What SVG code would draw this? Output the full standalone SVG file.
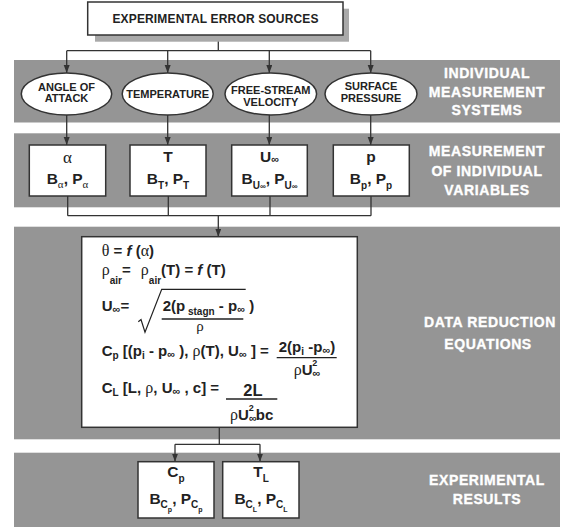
<svg xmlns="http://www.w3.org/2000/svg" width="576" height="527" viewBox="0 0 576 527">
<defs>
<marker id="ah" markerUnits="userSpaceOnUse" markerWidth="8" markerHeight="8" refX="8" refY="3" orient="auto">
<path d="M0,0 L8,3 L0,6 Z" fill="#333"/>
</marker>
<style>
.band{fill:#959595}
.box{fill:#fff;stroke:#333;stroke-width:1.5}
.lbl{fill:#fff;stroke:#fff;stroke-width:0.35px;font-family:"Liberation Sans",Arial,sans-serif;font-weight:bold;font-size:14px;letter-spacing:0.6px;text-anchor:middle}
.t{font-family:"Liberation Sans",Arial,sans-serif;font-weight:bold;fill:#222}
.el{font-size:11px;text-anchor:middle}
.bx{font-size:15.5px;text-anchor:middle}
.eq{font-size:15px}
.gr{font-family:"Liberation Serif","DejaVu Serif",serif;font-weight:normal}
.conn line{stroke:#333;stroke-width:1.3;fill:none}
.bar{stroke:#222;stroke-width:1.3}
</style>
</defs>
<rect class="band" x="14" y="60" width="546" height="62.5"/>
<rect class="band" x="14" y="133.3" width="546" height="74"/>
<rect class="band" x="14" y="226.7" width="546" height="212.6"/>
<rect class="band" x="14" y="452.7" width="546" height="74.3"/>
<text class="lbl" x="487" y="78.3">INDIVIDUAL</text>
<text class="lbl" x="487" y="96.7">MEASUREMENT</text>
<text class="lbl" x="487" y="115">SYSTEMS</text>
<text class="lbl" x="487" y="156">MEASUREMENT</text>
<text class="lbl" x="487" y="176">OF INDIVIDUAL</text>
<text class="lbl" x="487" y="195">VARIABLES</text>
<text class="lbl" x="490" y="327.3">DATA REDUCTION</text>
<text class="lbl" x="488" y="349">EQUATIONS</text>
<text class="lbl" x="487" y="485">EXPERIMENTAL</text>
<text class="lbl" x="487" y="504.3">RESULTS</text>

<g class="conn">
<line x1="218.3" y1="35" x2="218.3" y2="50.7"/>
<line x1="66.7" y1="50.7" x2="370.7" y2="50.7"/>
<line x1="66.7" y1="50.7" x2="66.7" y2="73" marker-end="url(#ah)"/>
<line x1="167.7" y1="50.7" x2="167.7" y2="73" marker-end="url(#ah)"/>
<line x1="269.3" y1="50.7" x2="269.3" y2="73" marker-end="url(#ah)"/>
<line x1="370.7" y1="50.7" x2="370.7" y2="73" marker-end="url(#ah)"/>
<line x1="66.7" y1="115" x2="66.7" y2="145" marker-end="url(#ah)"/>
<line x1="167.7" y1="115" x2="167.7" y2="145" marker-end="url(#ah)"/>
<line x1="269.3" y1="115" x2="269.3" y2="145" marker-end="url(#ah)"/>
<line x1="370.7" y1="115" x2="370.7" y2="145" marker-end="url(#ah)"/>
<line x1="67.7" y1="196" x2="67.7" y2="215.7"/>
<line x1="168.3" y1="196" x2="168.3" y2="215.7"/>
<line x1="270" y1="196" x2="270" y2="215.7"/>
<line x1="371" y1="196" x2="371" y2="215.7"/>
<line x1="67.7" y1="215.7" x2="371" y2="215.7"/>
<line x1="218.3" y1="215.7" x2="218.3" y2="236.7" marker-end="url(#ah)"/>
<line x1="219.3" y1="427.3" x2="219.3" y2="444.3"/>
<line x1="175" y1="444.3" x2="260" y2="444.3"/>
<line x1="175" y1="444.3" x2="175" y2="461.7" marker-end="url(#ah)"/>
<line x1="260" y1="444.3" x2="260" y2="461.7" marker-end="url(#ah)"/>
</g>

<g id="n-sources">
<rect x="95" y="8.7" width="254" height="33" fill="#a9a9a9"/>
<rect class="box" x="87.7" y="2" width="255.3" height="33"/>
<text class="t" x="215.5" y="22.7" font-size="12" text-anchor="middle" letter-spacing="0.15">EXPERIMENTAL ERROR SOURCES</text>
</g>

<g id="n-aoa">
<ellipse class="box" cx="66.5" cy="94" rx="45.2" ry="21"/>
<text class="t el" x="66.5" y="90.7">ANGLE OF</text>
<text class="t el" x="66.5" y="102.2">ATTACK</text>
</g>
<g id="n-temp">
<ellipse class="box" cx="167.7" cy="94" rx="45.5" ry="21"/>
<text class="t el" x="167.7" y="97.5">TEMPERATURE</text>
</g>
<g id="n-vel">
<ellipse class="box" cx="270.8" cy="94" rx="45.8" ry="21"/>
<text class="t el" x="270.8" y="93.5">FREE-STREAM</text>
<text class="t el" x="270.8" y="105.5">VELOCITY</text>
</g>
<g id="n-press">
<ellipse class="box" cx="371" cy="94" rx="46" ry="21"/>
<text class="t el" x="371" y="90.3">SURFACE</text>
<text class="t el" x="371" y="101.8">PRESSURE</text>
</g>

<g id="n-alpha">
<rect class="box" x="29.3" y="145" width="76.4" height="51"/>
<text class="t bx" x="67.5" y="163.3"><tspan class="gr" font-size="17">α</tspan></text>
<text class="t bx" x="67.5" y="184">B<tspan class="gr" font-size="11" dy="4">α</tspan><tspan dy="-4">, P</tspan><tspan class="gr" font-size="11" dy="4">α</tspan></text>
</g>
<g id="n-T">
<rect class="box" x="130" y="145" width="76" height="51"/>
<text class="t bx" x="168" y="162.3">T</text>
<text class="t bx" x="168" y="184">B<tspan font-size="10" dy="5">T</tspan><tspan dy="-5">, P</tspan><tspan font-size="10" dy="5">T</tspan></text>
</g>
<g id="n-U">
<rect class="box" x="231.7" y="145" width="75.6" height="51"/>
<text class="t bx" x="269.5" y="162.3">U<tspan font-size="11" dy="1">∞</tspan></text>
<text class="t bx" x="269.5" y="184">B<tspan font-size="10" dy="5">U</tspan><tspan font-size="8">∞</tspan><tspan dy="-5">, P</tspan><tspan font-size="10" dy="5">U</tspan><tspan font-size="8">∞</tspan></text>
</g>
<g id="n-p">
<rect class="box" x="333.3" y="145" width="76" height="51"/>
<text class="t bx" x="371" y="162.3">p</text>
<text class="t bx" x="371" y="184">B<tspan font-size="10" dy="5">p</tspan><tspan dy="-5">, P</tspan><tspan font-size="10" dy="5">p</tspan></text>
</g>

<g id="n-equations">
<rect class="box" x="81.7" y="236.7" width="275.6" height="190.6"/>
<text class="t eq" x="101.7" y="255.7"><tspan class="gr" font-size="16">θ</tspan> = <tspan font-style="italic">f</tspan> (<tspan class="gr" font-size="16">α</tspan>)</text>
<text class="t eq" x="101.7" y="274.5"><tspan class="gr" font-size="16">ρ</tspan><tspan font-size="10" dy="9">air</tspan><tspan dy="-9">=  </tspan><tspan class="gr" font-size="16" dx="6">ρ</tspan><tspan font-size="10" dy="9">air</tspan><tspan dy="-9">(T) = </tspan><tspan font-style="italic">f</tspan> (T)</text>
<text class="t eq" x="101.7" y="311">U<tspan font-size="11" dy="2">∞</tspan><tspan dy="-2">=</tspan></text>
<path d="M138.3,321.7 L141,319.5 L145,332.3 L161.7,289.3 L245.7,289.3" stroke="#222" stroke-width="1.2" fill="none"/>
<text class="t eq" x="162.7" y="310.5">2(p<tspan font-size="10" dy="4"> stagn</tspan><tspan dy="-4"> - p</tspan><tspan font-size="11" dy="2">∞</tspan><tspan dy="-2"> )</tspan></text>
<line class="bar" x1="161.7" y1="319" x2="243.3" y2="319"/>
<text class="t eq gr" x="200" y="331" text-anchor="middle" font-size="16">ρ</text>
<text class="t eq" x="101.7" y="356">C<tspan font-size="10" dy="3">p</tspan><tspan dy="-3"> [(p</tspan><tspan font-size="10" dy="3">i</tspan><tspan dy="-3"> - p</tspan><tspan font-size="11" dy="2">∞</tspan><tspan dy="-2"> ), </tspan><tspan class="gr" font-size="16">ρ</tspan>(T), U<tspan font-size="11" dy="2">∞</tspan><tspan dy="-2"> ] =</tspan></text>
<text class="t eq" x="307" y="351.5" text-anchor="middle">2(p<tspan font-size="10" dy="3">i</tspan><tspan dy="-3"> -p</tspan><tspan font-size="11" dy="2">∞</tspan><tspan dy="-2">)</tspan></text>
<line class="bar" x1="276.7" y1="357.7" x2="336.7" y2="357.7"/>
<text class="t eq" x="307" y="375" text-anchor="middle"><tspan class="gr" font-size="16">ρ</tspan>U<tspan font-size="11" dy="2">∞</tspan><tspan font-size="9" dx="-8" dy="-11">2</tspan></text>
<text class="t eq" x="101.7" y="393.3">C<tspan font-size="10" dy="3">L</tspan><tspan dy="-3"> [L, </tspan><tspan class="gr" font-size="16">ρ</tspan>, U<tspan font-size="11" dy="2">∞</tspan><tspan dy="-2"> , c] =</tspan></text>
<text class="t" x="253" y="395.5" text-anchor="middle" font-size="16.5">2L</text>
<line class="bar" x1="226" y1="399" x2="277.3" y2="399"/>
<text class="t eq" x="251.7" y="420" text-anchor="middle"><tspan class="gr" font-size="16">ρ</tspan>U<tspan font-size="11" dy="2">∞</tspan><tspan font-size="9" dx="-8" dy="-11">2</tspan><tspan dx="2" dy="9">bc</tspan></text>
</g>

<g id="n-cp">
<rect class="box" x="138" y="461.7" width="76" height="56.3"/>
<text class="t bx" x="176" y="477.3">C<tspan font-size="10" dy="5">p</tspan></text>
<text class="t bx" x="176" y="504">B<tspan font-size="10" dy="4">C</tspan><tspan font-size="7" dy="4">p</tspan><tspan dy="-8">, P</tspan><tspan font-size="10" dy="4">C</tspan><tspan font-size="7" dy="4">p</tspan></text>
</g>
<g id="n-tl">
<rect class="box" x="222.7" y="461.7" width="76.3" height="56.3"/>
<text class="t bx" x="261" y="477.3">T<tspan font-size="10" dy="5">L</tspan></text>
<text class="t bx" x="261" y="504">B<tspan font-size="10" dy="4">C</tspan><tspan font-size="7" dy="4">L</tspan><tspan dy="-8">, P</tspan><tspan font-size="10" dy="4">C</tspan><tspan font-size="7" dy="4">L</tspan></text>
</g>
</svg>
